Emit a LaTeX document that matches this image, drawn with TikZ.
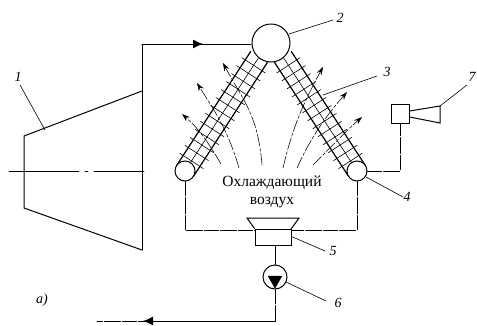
\documentclass[tikz,border=0pt]{standalone}
\usepackage{fontspec}
\setmainfont{Liberation Serif}
\usetikzlibrary{arrows.meta, calc}

\begin{document}
\begin{tikzpicture}[x=1pt, y=-1pt,
		line cap=round,
		pipe/.style={line width=1pt},
		brokenpipe/.style={line width=1pt, dash pattern=on 14pt off 2pt on 16pt off 2pt},
		thin line/.style={line width=0.6pt},
		leader/.style={line width=0.6pt},
		air/.style={line width=0.55pt, dash pattern=on 12pt off 2pt on 3pt off 2pt, -{Stealth[length=8pt, width=5.5pt]}},
		vessel/.style={circle, draw, fill=white, line width=1pt, inner sep=0pt},
		box/.style={rectangle, draw, line width=1pt, inner sep=0pt},
		num/.style={font=\itshape\fontsize{14}{14}\selectfont, inner sep=0pt}
		]
		\useasboundingbox (0,0) rectangle (477,325);

		% turbine
		\draw [pipe] (142,91) -- (24,136) -- (24,208) -- (142,250);
		\draw [pipe] (142,250) -- (142,44) -- (251,44);
		\draw [thin line, dash pattern=on 70pt off 6pt on 3pt off 6pt on 50pt] (9,171) -- (147,171);
		\draw [-{Latex[length=10pt, width=9pt]}, pipe] (142,44) -- (203,44);

		% tube bundles
		\foreach \sx/\sy/\ex/\ey in {185/171/259/57, 357/171/283/57} {
			\begin{scope}[shift={(\sx,\sy)}, rotate={atan2(\sy-\ey,\ex-\sx)}]
				\draw [line width=1.2pt] (0,-10) -- (136,-10);
				\draw [line width=1.2pt] (0,10) -- (136,10);
				\draw [thin line] (0,0) -- (136,0);
				\foreach \u in {12,21.5,...,130} {
					\draw [thin line] (\u,-14) -- (\u,14);
				}
			\end{scope}
		}

		% air streams
		\draw [air] (221,164) .. controls (207,140) and (197,127) .. (182,114);
		\draw [air] (239,168) .. controls (228,130) and (214,110) .. (197,83);
		\draw [air] (262,165) .. controls (258,115) and (243,100) .. (223,63);
		\draw [air] (283,168) .. controls (293,125) and (305,100) .. (323,67);
		\draw [air] (297,168) .. controls (312,135) and (327,115) .. (347,92);
		\draw [air] (313,165) .. controls (330,148) and (345,132) .. (362,117);

		% vessels
		\node [vessel, minimum size=38pt] (header) at (271,43) {};
		\node [vessel, minimum size=20pt] (left tank) at (185,171) {};
		\node [vessel, minimum size=20pt] (right tank) at (357,171) {};

		% fan
		\node [box, minimum width=36pt, minimum height=16pt] (fan) at (273,237) {};
		\draw [pipe] (fan.north west) -- (247,218) -- (299,218) -- (fan.north east);
		\node [vessel, minimum size=24pt] (pump) at (275,277) {};
		\draw [fill=black] (268,276) -- (282,276) -- (275,288) -- cycle;

		% air heater
		\node [box, minimum width=18pt, minimum height=19pt] (heater) at (400,114) {};
		\coordinate (cone top) at (440,106);
		\coordinate (cone bottom) at (440,123);
		\draw [pipe] (heater.east |- 0,111) -- (cone top) -- (cone bottom) -- (heater.east |- 0,117) ;

		% return lines
		\coordinate (fan left) at (fan.west |- 0,230);
		\coordinate (fan right) at (fan.east |- 0,230);
		\coordinate (drain end) at (97,321);
		\draw [brokenpipe] (left tank.south) -- (left tank.south |- fan left) -- (fan left);
		\draw [brokenpipe] (right tank.south) -- (right tank.south |- fan right) -- (fan right);
		\draw [pipe] (fan.south -| pump) -- (pump);
		\draw [brokenpipe] (right tank.east) -- (heater.south |- right tank.east) -- (heater.south);
		\draw [brokenpipe] (pump.south) -- (pump.south |- drain end) -- (drain end);
		\draw [-{Latex[length=10pt, width=9pt]}, pipe] (pump.south |- drain end) -- (143,321);

		% labels
		\node [num] (lab1) at (18,77) {1};
		\node [num] (lab2) at (340,18) {2};
		\node [num] (lab3) at (387,72) {3};
		\node [num] (lab4) at (407,197) {4};
		\node [num] (lab5) at (333,251) {5};
		\node [num] (lab6) at (338,303) {6};
		\node [num] (lab7) at (472,77) {7};
		\node [num] (lab a) at (42,300) {a)};
		\draw [leader] (lab1) ++(2,8) -- (45,130);
		\draw [leader] (header) ++(18,-9) -- (333,20);
		\draw [leader] (323,95) -- (377,76);
		\draw [leader] (right tank) ++(9,6) -- (403,197);
		\draw [leader] (fan.east) ++(0,-0.5) -- (325,251);
		\draw [leader] (pump) ++(11,5) -- (326,301);
		\draw [leader] (cone top) -- (467,85);

		\node [align=center, font=\fontsize{15.5}{18}\selectfont, inner sep=0pt] (caption) at (272,192) {Охлаждающий\\воздух};
	\end{tikzpicture}
\end{document}
